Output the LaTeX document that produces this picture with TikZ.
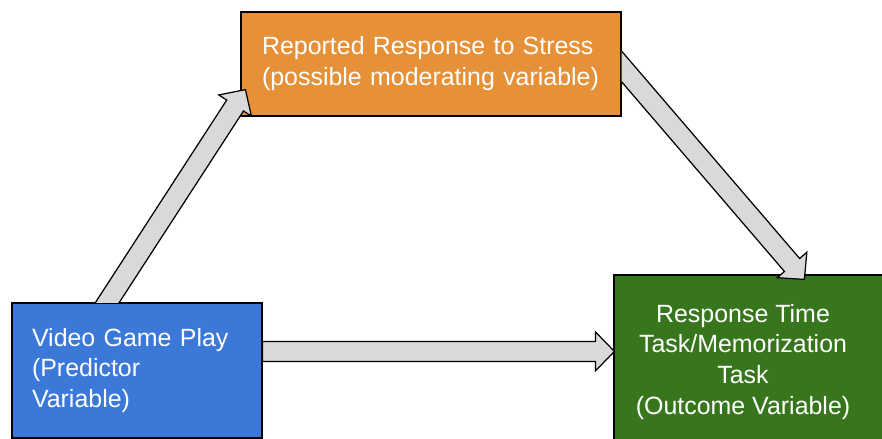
\documentclass[tikz,border=0pt]{standalone}
\usepackage{fontspec}
\setmainfont{Liberation Sans}
\usepackage{tikz}
\usetikzlibrary{calc}
\definecolor{predblue}{HTML}{3C78D8}
\definecolor{modorange}{HTML}{E69138}
\definecolor{outgreen}{HTML}{38761D}
\definecolor{arrowgray}{HTML}{D9D9D9}

% wide outlined arrow from #1 to #2
\newcommand{\blockarrow}[2]{%
  \coordinate (neck) at ($(#2)!0.38cm!(#1)$);
  \draw[bigarrow] ($(#1)!0.2cm!90:(#2)$) -- ($(neck)!0.2cm!-90:(#1)$) -- ($(neck)!0.39cm!-90:(#1)$)
    -- (#2) -- ($(neck)!0.39cm!90:(#1)$) -- ($(neck)!0.2cm!90:(#1)$) -- ($(#1)!0.2cm!-90:(#2)$) -- cycle;
}

\begin{document}
\begin{tikzpicture}[
    x=0.02cm, y=-0.02cm,
    every node/.style={font=\fontsize{14.2}{17.6}\selectfont, text=white},
    varbox/.style={rectangle, draw=black, line width=0.7pt, fill=#1, inner ysep=0pt},
    bigarrow/.style={draw=black, line width=0.7pt, fill=arrowgray, line join=miter}
]
\useasboundingbox (0,0) rectangle (882,439);

\node[varbox=predblue, minimum width=5cm, minimum height=2.7cm, inner xsep=0.4cm, text width=4.2cm, align=left] (play) at (137,370.5) {Video Game Play\\(Predictor\\Variable)};

\node[varbox=modorange, minimum width=7.6cm, minimum height=2.08cm, inner xsep=0.42cm, text width=6.76cm, align=left] (stress) at (431,64) {Reported Response to Stress\\(possible moderating variable)};

\node[varbox=outgreen, minimum width=5.72cm, minimum height=3.48cm] (outcome) at (757,362) {};
\node[align=center] (outcometext) at (743,362) {Response Time\\Task/Memorization\\Task\\(Outcome Variable)};

\coordinate (playtop) at ($(play.north west)+(96,0)$);
\coordinate (stressin) at ($(stress.south west)+(5,-27)$);
\coordinate (stressout) at ($(stress.north east)+(0,55)$);
\coordinate (outcometop) at ($(outcome.north west)+(191,5)$);
\coordinate (playout) at ($(play.north east)+(0,49)$);
\coordinate (outcomeleft) at ($(outcome.north west)+(1,77)$);
\coordinate (playtail) at ($(playtop)!-0.6cm!(stressin)$);
\coordinate (stresstail) at ($(stressout)!-0.6cm!(outcometop)$);

% tails start behind the source boxes
\begin{scope}
  \clip (0,0) rectangle (outcome.east |- play.north);
  \blockarrow{playtail}{stressin}
\end{scope}
\begin{scope}
  \clip (stress.east |- 0,0) rectangle (outcome.east |- outcome.south);
  \blockarrow{stresstail}{outcometop}
\end{scope}
\blockarrow{playout}{outcomeleft}

\end{tikzpicture}
\end{document}
